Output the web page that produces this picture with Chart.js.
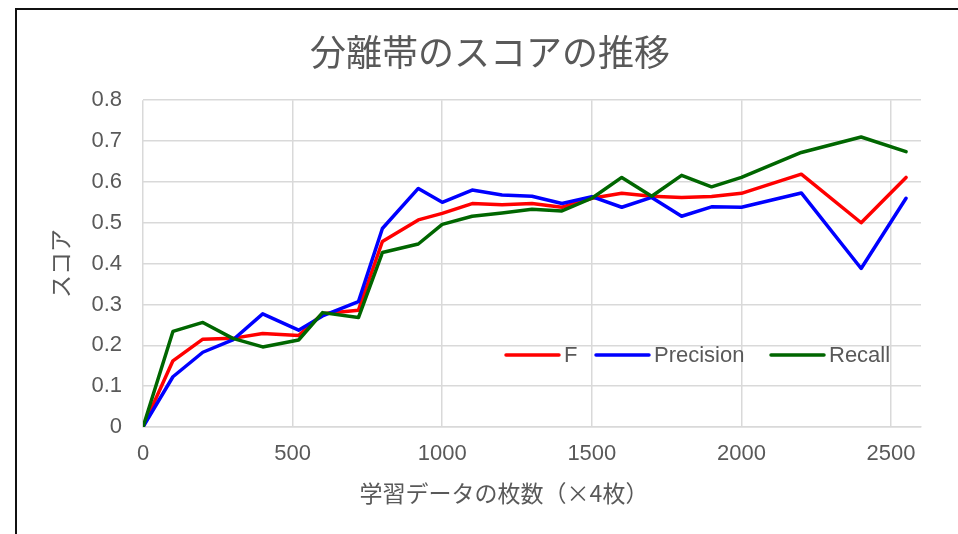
<!DOCTYPE html>
<html lang="ja">
<head>
<meta charset="utf-8">
<title>分離帯のスコアの推移</title>
<script src="https://cdn.jsdelivr.net/npm/chart.js@4.4.1/dist/chart.umd.min.js"></script>
<style>
  html, body { margin: 0; padding: 0; background: #fff; overflow: hidden; }
  body { width: 958px; height: 534px; position: relative; }
  #frame {
    position: absolute; left: 15px; top: 8px;
    width: 960px; height: 540px;
    border-left: 2px solid #111; border-top: 2px solid #111;
  }
  #wrap { position: absolute; left: 0; top: 0; width: 950px; height: 524px; }
</style>
</head>
<body>
<div id="frame">
  <div id="wrap"><canvas id="graph"></canvas></div>
</div>
<script>
// training images (x4) and scores
const samples   = [0, 100, 200, 300, 400, 520, 600, 720, 800, 920, 1000, 1100, 1200, 1300, 1400, 1500, 1600, 1700, 1800, 1900, 2000, 2200, 2400, 2550];
const fScore    = [0, 0.162, 0.215, 0.217, 0.229, 0.224, 0.277, 0.286, 0.454, 0.507, 0.523, 0.547, 0.544, 0.547, 0.538, 0.560, 0.572, 0.565, 0.562, 0.564, 0.572, 0.619, 0.500, 0.611];
const precision = [0, 0.123, 0.183, 0.213, 0.277, 0.237, 0.272, 0.307, 0.486, 0.584, 0.550, 0.580, 0.568, 0.565, 0.547, 0.564, 0.538, 0.562, 0.516, 0.539, 0.538, 0.573, 0.388, 0.560];
const recall    = [0, 0.234, 0.256, 0.217, 0.196, 0.213, 0.280, 0.268, 0.427, 0.448, 0.496, 0.516, 0.524, 0.533, 0.529, 0.560, 0.611, 0.565, 0.616, 0.588, 0.611, 0.672, 0.710, 0.674];
const seriesNames  = ["F", "Precision", "Recall"];
const seriesColors = ["#ff0000", "#0000ff", "#006600"];
const xTicks = [0, 500, 1000, 1500, 2000, 2500];
const yTicks = [0, 0.1, 0.2, 0.3, 0.4, 0.5, 0.6, 0.7, 0.8];
const xCaption = "学習データの枚数（×4枚）";

const textColor = "#595959";
const gridColor = "#d9d9d9";
const fontFamily = "'Liberation Sans', 'Noto Sans CJK JP', sans-serif";
const cjkFamily = "'Noto Sans CJK JP', sans-serif";

Chart.defaults.font.family = fontFamily;
Chart.defaults.color = textColor;

function toPoints(values) {
  return samples.map((x, i) => ({ x: x, y: values[i] }));
}

// legend drawn inside the plot, one line sample + name per series
const lineLegend = {
  id: "lineLegend",
  afterDraw(chart, args, opts) {
    const ctx = chart.ctx;
    ctx.save();
    ctx.font = opts.fontSize + "px " + fontFamily;
    ctx.textBaseline = "middle";
    ctx.lineCap = "round";
    chart.data.datasets.forEach((ds, i) => {
      const x = opts.starts[i];
      ctx.strokeStyle = ds.borderColor;
      ctx.lineWidth = ds.borderWidth;
      ctx.beginPath();
      ctx.moveTo(x, opts.y);
      ctx.lineTo(x + opts.lineLength, opts.y);
      ctx.stroke();
      ctx.fillStyle = textColor;
      ctx.fillText(ds.label, x + opts.lineLength + opts.gap, opts.y + 1);
    });
    ctx.restore();
  }
};

// x axis caption, placed a bit left of the plot centre
const axisCaption = {
  id: "axisCaption",
  afterDraw(chart, args, opts) {
    const ctx = chart.ctx;
    ctx.save();
    ctx.font = opts.fontSize + "px " + cjkFamily;
    ctx.fillStyle = textColor;
    ctx.textAlign = "center";
    ctx.textBaseline = "middle";
    ctx.fillText(opts.text, opts.x, opts.y);
    ctx.restore();
  }
};

const series = [fScore, precision, recall];

new Chart(document.getElementById("graph"), {
  type: "line",
  data: {
    datasets: series.map((values, i) => ({
      label: seriesNames[i],
      data: toPoints(values),
      borderColor: seriesColors[i],
      backgroundColor: seriesColors[i],
      borderWidth: 3.5,
      borderJoinStyle: "round",
      borderCapStyle: "round",
      pointRadius: 0,
      tension: 0,
      fill: false,
      order: series.length - i
    }))
  },
  options: {
    responsive: true,
    maintainAspectRatio: false,
    animation: false,
    // left padding keeps the title centred on the whole frame
    layout: { padding: { left: 42, right: 46, top: 0, bottom: 0 } },
    plugins: {
      legend: { display: false },
      tooltip: { enabled: false },
      title: {
        display: true,
        text: "分離帯のスコアの推移",
        color: textColor,
        font: { size: 36, weight: "normal" },
        padding: { top: 24, bottom: 23 }
      },
      lineLegend: { starts: [489, 579, 754], y: 345, lineLength: 53, gap: 5, fontSize: 22 },
      axisCaption: { text: xCaption, x: 487, y: 483, fontSize: 23 }
    },
    scales: {
      x: {
        type: "linear",
        min: 0,
        max: 2600,
        grid: { color: gridColor, lineWidth: 1.5, drawTicks: false },
        border: { color: gridColor, width: 1.5 },
        afterBuildTicks(scale) { scale.ticks = xTicks.map(v => ({ value: v })); },
        ticks: { padding: 14, font: { size: 22 }, color: textColor, maxRotation: 0, autoSkip: false, callback: v => String(v) },
        afterFit(scale) { scale.height = 107; }
      },
      y: {
        min: 0,
        max: 0.8,
        grid: { color: gridColor, lineWidth: 1.5, drawTicks: false },
        border: { display: false },
        afterBuildTicks(scale) { scale.ticks = yTicks.map(v => ({ value: v })); },
        ticks: { padding: 21, font: { size: 22 }, color: textColor },
        title: {
          display: true,
          text: "スコア",
          color: textColor,
          font: { size: 23 },
          padding: { top: -10, bottom: 0 }
        },
        afterFit(scale) { scale.width = 84; }
      }
    }
  },
  plugins: [lineLegend, axisCaption]
});
</script>
</body>
</html>
